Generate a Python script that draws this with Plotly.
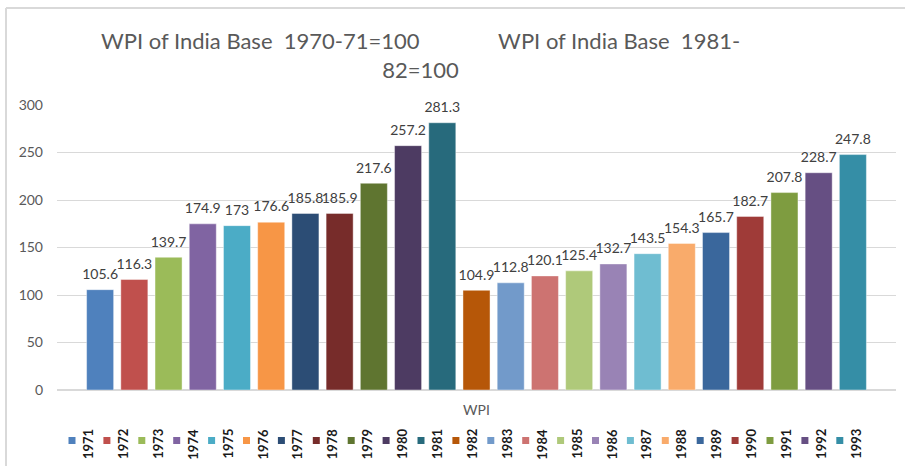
import plotly.graph_objects as go

years = [str(y) for y in range(1971, 1994)]
wpi = [105.6, 116.3, 139.7, 174.9, 173, 176.6, 185.8, 185.9, 217.6, 257.2, 281.3,
       104.9, 112.8, 120.1, 125.4, 132.7, 143.5, 154.3, 165.7, 182.7, 207.8, 228.7, 247.8]
colors = [
    "#4F81BD", "#C0504D", "#9BBB59", "#8064A2", "#4BACC6", "#F79646",
    "#2C4D75", "#772C2A", "#5F7530", "#4D3B62", "#276A7C", "#B65708",
    "#729ACA", "#CD7371", "#AFC97A", "#9983B5", "#6FBDD1", "#F9AB6B",
    "#3A679C", "#9F3B38", "#7E9C40", "#664F83", "#358EA6",
]
category = ["WPI"]
title_text = ("WPI of India Base\u00a0\u00a01970-71=100" + "\u00a0" * 14
              + "WPI of India Base\u00a0\u00a01981-<br>82=100")

W, H = 905, 466
L, R, T, B = 57, 9, 105, 76
PW, PH = W - L - R, H - T - B


def px(x):
    return (x - L) / PW


def py(y):
    return (H - B - y) / PH


fig = go.Figure()
for yr, v, c in zip(years, wpi, colors):
    fig.add_trace(go.Bar(
        name=yr, x=category, y=[v], offsetgroup=yr,
        marker=dict(color=c, line=dict(color="rgba(255,255,255,0.6)", width=0.7)),
        hoverinfo="skip", showlegend=False,
    ))
# data labels: invisible markers on the bar tops, text sits above them
for yr, v in zip(years, wpi):
    fig.add_trace(go.Scatter(
        x=category, y=[v], offsetgroup=yr, mode="markers+text",
        text=[f"{v:g}"], textposition="top center",
        textfont=dict(family="Lato", size=14, color="#404040"),
        marker=dict(size=10, color="rgba(0,0,0,0)"),
        cliponaxis=False, hoverinfo="skip", showlegend=False,
    ))

# legend drawn by hand so the labels can stand vertically
shapes = []
annotations = []
for i, (yr, c) in enumerate(zip(years, colors)):
    sx = 72 + i * 34.9
    shapes.append(dict(type="rect", xref="paper", yref="paper",
                       x0=px(sx - 3.5), x1=px(sx + 3.5), y0=py(444), y1=py(437),
                       fillcolor=c, line=dict(width=0)))
    annotations.append(dict(text=f"<b>{yr}</b>", xref="paper", yref="paper",
                            x=px(sx + 16), y=py(444), textangle=-90,
                            showarrow=False, xanchor="center", yanchor="middle",
                            font=dict(family="Lato", size=13, color="#1a1a1a")))

annotations.append(dict(text=title_text, xref="paper", yref="paper",
                        x=px(420), y=py(55), showarrow=False,
                        xanchor="center", yanchor="middle", align="center",
                        font=dict(family="Lato", size=22, color="#595959")))

# chart frame (top and left edges)
shapes.append(dict(type="line", xref="paper", yref="paper",
                   x0=px(6), x1=px(905), y0=py(8), y1=py(8),
                   line=dict(color="#d9d9d9", width=2)))
shapes.append(dict(type="line", xref="paper", yref="paper",
                   x0=px(6), x1=px(6), y0=py(8), y1=py(466),
                   line=dict(color="#d9d9d9", width=2)))

fig.update_layout(
    width=W, height=H,
    margin=dict(l=L, r=R, t=T, b=B),
    barmode="group", bargap=0.062, bargroupgap=0.21,
    scattermode="group", scattergap=0.062,
    plot_bgcolor="white", paper_bgcolor="white",
    shapes=shapes, annotations=annotations,
    xaxis=dict(tickfont=dict(family="Lato", size=14, color="#595959"),
               showline=False, ticks="", ticklabelstandoff=10),
    yaxis=dict(range=[0, 300], dtick=50, showgrid=True, gridcolor="#d9d9d9",
               gridwidth=1, zeroline=True, zerolinecolor="#d9d9d9",
               tickfont=dict(family="Lato", size=14, color="#595959"),
               ticks="", ticklabelstandoff=13),
)

fig.write_html("out.html", config={"displayModeBar": False},
               post_script="document.body.style.margin='0';")
